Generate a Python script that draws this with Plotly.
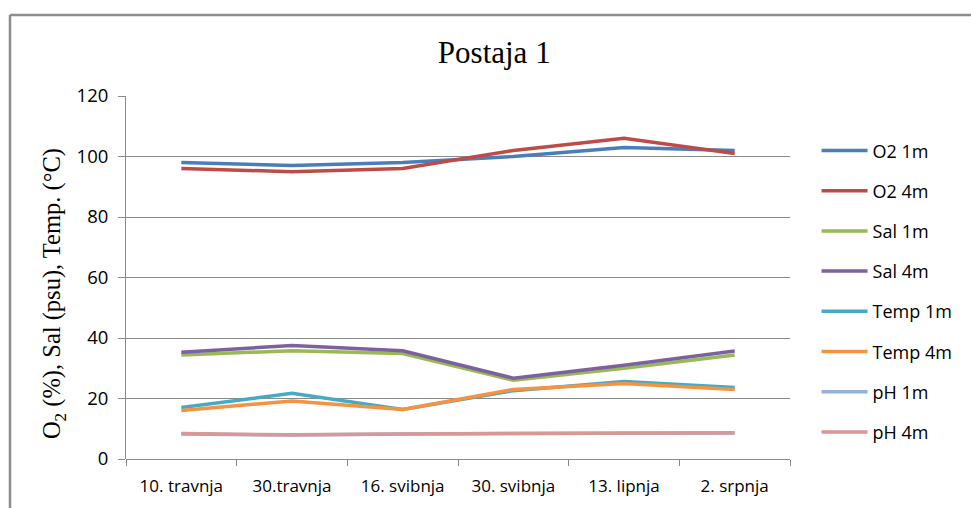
import plotly.graph_objects as go

# Sampling dates (station 1)
dates = ["10. travnja", "30.travnja", "16. svibnja", "30. svibnja", "13. lipnja", "2. srpnja"]

o2_1m = [98, 97, 98, 100, 103, 102]
o2_4m = [96, 95, 96, 102, 106, 101]
sal_1m = [34.4, 35.8, 34.9, 26.0, 30.0, 34.4]
sal_4m = [35.3, 37.5, 35.8, 26.7, 31.0, 35.7]
temp_1m = [17.0, 21.7, 16.4, 22.6, 25.6, 23.6]
temp_4m = [16.0, 19.2, 16.4, 23.0, 25.0, 23.0]
ph_1m = [8.3, 7.9, 8.3, 8.4, 8.6, 8.6]
ph_4m = [8.4, 8.0, 8.3, 8.4, 8.7, 8.7]

series = [
    ("O2 1m", o2_1m, "#4A7EBB"),
    ("O2 4m", o2_4m, "#BE4B48"),
    ("Sal 1m", sal_1m, "#98B954"),
    ("Sal 4m", sal_4m, "#7D60A0"),
    ("Temp 1m", temp_1m, "#46AAC5"),
    ("Temp 4m", temp_4m, "#F69240"),
    ("pH 1m", ph_1m, "#94B3D6"),
    ("pH 4m", ph_4m, "#D99795"),
]

fig = go.Figure()
for i, (name, vals, color) in enumerate(series):
    fig.add_trace(go.Scatter(
        x=dates, y=vals, name=name, mode="lines",
        line=dict(color=color, width=3.5),
        legendgroup=f"g{i}",
    ))

fig.update_layout(
    width=971, height=508,
    margin=dict(l=126, r=181, t=96, b=49),
    paper_bgcolor="white", plot_bgcolor="white",
    showlegend=True,
    title=dict(
        text="Postaja 1", x=0.509, xanchor="center",
        y=0.897, yanchor="middle", yref="container",
        font=dict(family="Liberation Serif", size=31, color="#000000"),
    ),
    legend=dict(
        x=1.04, xanchor="left", y=0.9, yanchor="top",
        font=dict(family="Open Sans", size=18, color="#000000"),
        tracegroupgap=13.8, itemwidth=46,
        bgcolor="rgba(0,0,0,0)",
    ),
    xaxis=dict(
        type="category", tickson="boundaries",
        ticks="outside", ticklen=6, tickcolor="#868686",
        showline=False, showgrid=False,
        tickfont=dict(family="Open Sans", size=17, color="#000000"),
        ticklabelstandoff=15,
        range=[-0.5, 5.5],
    ),
    yaxis=dict(
        range=[0, 120], dtick=20,
        showgrid=True, gridcolor="#8a8a8a", gridwidth=1,
        showline=True, linecolor="#8a8a8a", linewidth=1,
        ticks="outside", ticklen=7, tickcolor="#8a8a8a",
        zeroline=True, zerolinecolor="#8a8a8a", zerolinewidth=1,
        tickfont=dict(family="Open Sans", size=18.5, color="#000000"),
        ticklabelstandoff=6,
    ),
    annotations=[
        dict(
            text="O<sub>2</sub> (%), Sal (psu), Temp. (°C)",
            xref="paper", yref="paper", x=-0.108, y=0.455,
            xanchor="center", yanchor="middle", textangle=-90,
            showarrow=False,
            font=dict(family="Liberation Serif", size=24.5, color="#000000"),
        )
    ],
    shapes=[
        # chart frame (top and left edges)
        dict(type="line", xref="paper", yref="paper",
             x0=-0.1747, x1=1.35, y0=1.2231, y1=1.2231,
             line=dict(color="#8c8c8c", width=2.5)),
        dict(type="line", xref="paper", yref="paper",
             x0=-0.1747, x1=-0.1747, y0=1.2231, y1=-0.2,
             line=dict(color="#8c8c8c", width=2.5)),
    ],
)

fig.write_html("out.html")
